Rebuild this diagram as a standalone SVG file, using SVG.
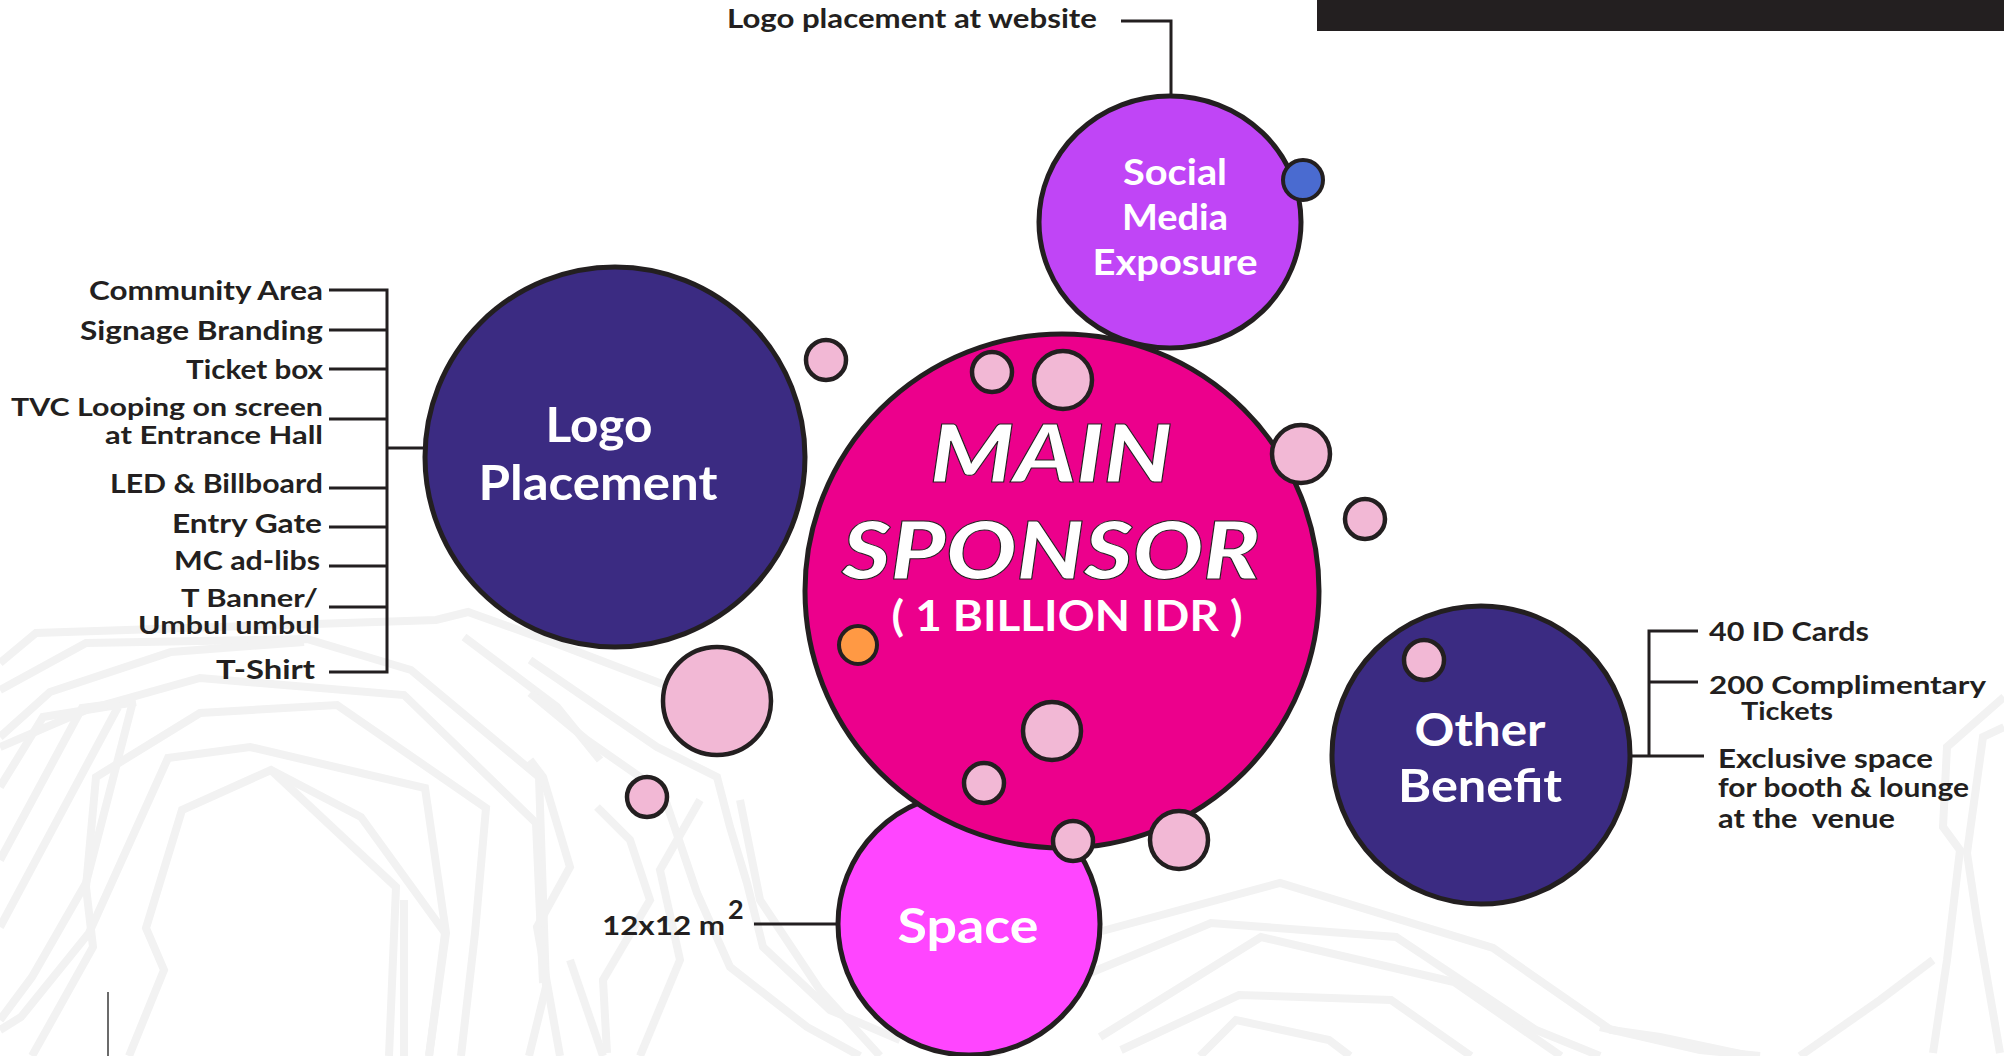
<svg xmlns="http://www.w3.org/2000/svg" width="2004" height="1056" viewBox="0 0 2004 1056">
<defs>
<style>
.bg{fill:none;stroke:#F2F2F2;stroke-width:8;stroke-linejoin:miter}
.ln{fill:none;stroke:#231F20;stroke-width:3}
.big{stroke:#231F20;stroke-width:5}
.bub{fill:#F2B8D5;stroke:#231F20;stroke-width:4.5}
.lbl{font-family:"Lato","Open Sans",sans-serif;font-weight:700;font-size:27px;fill:#231F20}
.two{font-size:24px}
.nd{font-family:"Lato","Open Sans",sans-serif;font-weight:700;fill:#FFFFFF}
.hd{font-family:"Lato","Open Sans",sans-serif;font-weight:900;font-style:italic;font-size:80px;fill:#FFFFFF;stroke:#231F20;stroke-width:1}
</style>
</defs>
<rect x="0" y="0" width="2004" height="1056" fill="#FFFFFF"/>
<g id="background">
<polyline class="bg" points="0,663 36,633 436,620 468,612 560,645 670,687"/>
<polyline class="bg" points="0,690 86,643 307,639 411,670 539,777 546,987 529,1056"/>
<polyline class="bg" points="0,737 50,692 171,652 304,642"/>
<polyline class="bg" points="0,747 86,710 200,678 404,695 536,823 543,983"/>
<polyline class="bg" points="0,787 43,717 136,702"/>
<polyline class="bg" points="0,860 82,708 120,703"/>
<polyline class="bg" points="0,927 118,707"/>
<polyline class="bg" points="0,1020 32,977 86,883 132,705"/>
<polyline class="bg" points="32,1056 93,947 86,887 96,777 200,713 337,705 486,808 475,933 461,1056"/>
<polyline class="bg" points="0,1030 21,1017 89,933 168,758 250,747 425,788 446,933 429,1056"/>
<polyline class="bg" points="129,1056 164,970 146,928 182,810 271,770 361,817 445,933 429,1056"/>
<polyline class="bg" points="271,770 396,887 389,1056"/>
<polyline class="bg" points="404,900 404,1056"/>
<polyline class="bg" points="464,637 557,707 600,760"/>
<polyline class="bg" points="530,660 657,747 717,777 730,827 747,883 763,947 830,1010 900,1040"/>
<polyline class="bg" points="530,693 587,740 663,793 697,893 730,967 807,1027 860,1056"/>
<polyline class="bg" points="530,760 543,777 570,867 537,927 560,1056"/>
<polyline class="bg" points="597,807 630,840 650,900 603,980 607,1053"/>
<polyline class="bg" points="570,960 603,1056"/>
<polyline class="bg" points="640,1056 680,960 660,870 700,800"/>
<polyline class="bg" points="880,1056 820,990 760,900 740,800"/>
<polyline class="bg" points="1000,1056 900,1010 860,950"/>
<polyline class="bg" points="1080,937 1280,883 1493,948 1611,1030 1660,1037 1750,1056"/>
<polyline class="bg" points="1090,973 1211,923 1396,937 1536,1030 1600,1056"/>
<polyline class="bg" points="1100,1037 1261,937 1454,982 1561,1056"/>
<polyline class="bg" points="1121,1050 1239,995 1391,1000 1471,1056"/>
<polyline class="bg" points="1200,1056 1236,1020 1329,1040 1350,1056"/>
<polyline class="bg" points="2004,697 1947,747 1943,827 1960,850 1947,960 1933,1053"/>
<polyline class="bg" points="2004,727 1983,737 1967,853 1977,920 2000,1053"/>
<polyline class="bg" points="1600,1027 1700,1050 1760,1056"/>
<polyline class="bg" points="1933,960 1880,1000 1800,1056"/>
</g>
<rect id="top-bar" x="1317" y="0" width="687" height="31" fill="#231F20"/>
<line x1="108" y1="992" x2="108" y2="1056" stroke="#3A3A3A" stroke-width="1.5"/>
<g id="connectors">
<path class="ln" d="M1121,21 H1171 V97"/>
<path class="ln" d="M329,290 H387 V672 H329 M329,330 H387 M329,369 H387 M329,419 H387 M329,488 H387 M329,527 H387 M329,566 H387 M329,607 H387 M387,448 H426"/>
<path class="ln" d="M754,924 H838"/>
<path class="ln" d="M1698,631 H1649 V756 M1649,682 H1698 M1628,756 H1704"/>
</g>
<g id="node-social-media">
<ellipse class="big" cx="1170" cy="222" rx="131" ry="126" fill="#C045F6"/>
<text class="nd" font-size="36" text-anchor="middle" x="1175" y="185" textLength="104" lengthAdjust="spacingAndGlyphs">Social</text>
<text class="nd" font-size="36" text-anchor="middle" x="1175" y="230" textLength="106" lengthAdjust="spacingAndGlyphs">Media</text>
<text class="nd" font-size="36" text-anchor="middle" x="1175" y="275" textLength="165" lengthAdjust="spacingAndGlyphs">Exposure</text>
</g>
<g id="node-space">
<circle class="big" cx="969" cy="924" r="131" fill="#FF45FF"/>
<text class="nd" font-size="48" text-anchor="middle" x="968" y="943" textLength="141" lengthAdjust="spacingAndGlyphs">Space</text>
</g>
<g id="node-logo-placement">
<circle class="big" cx="615" cy="457" r="190" fill="#3B2B82"/>
<text class="nd" font-size="47" text-anchor="middle" x="599" y="442" textLength="107" lengthAdjust="spacingAndGlyphs">Logo</text>
<text class="nd" font-size="47" text-anchor="middle" x="598" y="500" textLength="239" lengthAdjust="spacingAndGlyphs">Placement</text>
</g>
<g id="node-other-benefit">
<circle class="big" cx="1481" cy="755" r="149" fill="#3B2B82"/>
<text class="nd" font-size="46" text-anchor="middle" x="1480" y="746" textLength="131" lengthAdjust="spacingAndGlyphs">Other</text>
<text class="nd" font-size="46" text-anchor="middle" x="1480" y="802" textLength="164" lengthAdjust="spacingAndGlyphs">Benefit</text>
</g>
<g id="node-main-sponsor">
<circle class="big" cx="1062" cy="591" r="257" fill="#EC008C"/>
<text class="hd" text-anchor="middle" x="1051" y="482" textLength="242" lengthAdjust="spacingAndGlyphs">MAIN</text>
<text class="hd" text-anchor="middle" x="1051" y="579" textLength="418" lengthAdjust="spacingAndGlyphs">SPONSOR</text>
<text class="nd" font-size="42" font-weight="500" text-anchor="middle" x="1067" y="631" textLength="351" lengthAdjust="spacingAndGlyphs">( 1 BILLION IDR )</text>
</g>
<g id="bubbles">
<circle class="bub" cx="826" cy="360" r="20"/>
<circle class="bub" cx="992" cy="372" r="20"/>
<circle class="bub" cx="1063" cy="380" r="29"/>
<circle class="bub" cx="1301" cy="454" r="29"/>
<circle class="bub" cx="1365" cy="519" r="20"/>
<circle class="bub" cx="1052" cy="731" r="29"/>
<circle class="bub" cx="984" cy="783" r="20"/>
<circle class="bub" cx="1073" cy="841" r="20"/>
<circle class="bub" cx="1179" cy="840" r="29"/>
<circle class="bub" cx="717" cy="701" r="54"/>
<circle class="bub" cx="647" cy="797" r="20"/>
<circle class="bub" cx="1424" cy="660" r="20"/>
<circle cx="858" cy="645" r="19" fill="#FF9944" stroke="#231F20" stroke-width="4"/>
<circle cx="1303" cy="180" r="20" fill="#4A6BD0" stroke="#231F20" stroke-width="4"/>
</g>
<g id="labels">
<text class="lbl" font-size="26" x="727" y="28" textLength="370" lengthAdjust="spacingAndGlyphs">Logo placement at website</text>
<text class="lbl" text-anchor="end" x="323" y="300" textLength="234" lengthAdjust="spacingAndGlyphs">Community Area</text>
<text class="lbl" text-anchor="end" x="323" y="340" textLength="243" lengthAdjust="spacingAndGlyphs">Signage Branding</text>
<text class="lbl" text-anchor="end" x="323" y="379" textLength="137" lengthAdjust="spacingAndGlyphs">Ticket box</text>
<text class="lbl two" text-anchor="end" x="323" y="416" textLength="312" lengthAdjust="spacingAndGlyphs">TVC Looping on screen</text>
<text class="lbl two" text-anchor="end" x="323" y="444" textLength="218" lengthAdjust="spacingAndGlyphs">at Entrance Hall</text>
<text class="lbl" text-anchor="end" x="323" y="493" textLength="213" lengthAdjust="spacingAndGlyphs">LED &amp; Billboard</text>
<text class="lbl" text-anchor="end" x="322" y="533" textLength="150" lengthAdjust="spacingAndGlyphs">Entry Gate</text>
<text class="lbl" text-anchor="end" x="320" y="570" textLength="146" lengthAdjust="spacingAndGlyphs">MC ad-libs</text>
<text class="lbl two" text-anchor="end" x="318" y="607" textLength="137" lengthAdjust="spacingAndGlyphs">T Banner/</text>
<text class="lbl two" text-anchor="end" x="320" y="634" textLength="182" lengthAdjust="spacingAndGlyphs">Umbul umbul</text>
<text class="lbl" text-anchor="end" x="315" y="679" textLength="99" lengthAdjust="spacingAndGlyphs">T-Shirt</text>
<text class="lbl" font-size="28" x="602" y="935" textLength="123" lengthAdjust="spacingAndGlyphs">12x12 m</text>
<text class="lbl" font-size="14" x="728" y="919">2</text>
<text class="lbl" x="1709" y="641" textLength="160" lengthAdjust="spacingAndGlyphs">40 ID Cards</text>
<text class="lbl two" x="1709" y="694" textLength="277" lengthAdjust="spacingAndGlyphs">200 Complimentary</text>
<text class="lbl two" x="1741" y="720" textLength="92" lengthAdjust="spacingAndGlyphs">Tickets</text>
<text class="lbl" x="1718" y="768" textLength="215" lengthAdjust="spacingAndGlyphs">Exclusive space</text>
<text class="lbl" x="1718" y="797" textLength="251" lengthAdjust="spacingAndGlyphs">for booth &amp; lounge</text>
<text class="lbl" x="1718" y="828" textLength="177" lengthAdjust="spacingAndGlyphs" xml:space="preserve">at the  venue</text>
</g>
</svg>
